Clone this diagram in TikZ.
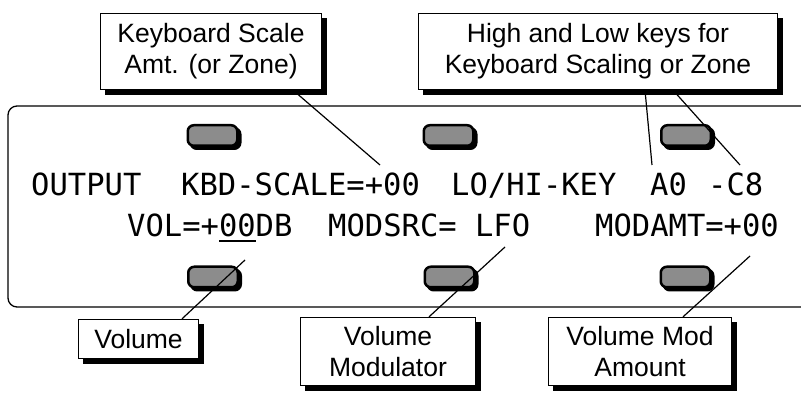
\documentclass[tikz,border=0pt]{standalone}
\usepackage{fontspec}
\setmainfont{Liberation Sans}
\newfontfamily\lcdfont{DejaVu Sans Mono}
\usetikzlibrary{positioning}
\newcommand\lcdul[1]{\vtop{\hbox{#1}\kern3pt\hrule height 2pt}}

\begin{document}
\begin{tikzpicture}[
x=1pt, y=-1pt,
panel/.style={draw, line width=1.3pt, rounded corners=9pt},
callout/.style={draw, line width=1.3pt, fill=white, align=center, inner sep=0pt, font=\fontsize{26.5}{31}\selectfont},
boxshade/.style={draw=black, fill=black, line width=1.3pt, inner sep=0pt},
button/.style={draw, line width=2.5pt, fill=black!45, rounded corners=6pt, minimum width=49.5pt, minimum height=20.5pt, inner sep=0pt},
btnshade/.style={button, fill=black},
lcd/.style={anchor=base west, inner sep=0pt, font=\lcdfont\fontsize{30.5}{32}\selectfont},
lead/.style={line width=1.2pt}
]
\useasboundingbox (0,0) rectangle (801,395);
\draw[panel] (806,106) -- (8,106) -- (8,307) -- (806,307);

\node[btnshade] (scalebtnshade) at (215.5,138.5) {};
\node[btnshade] (keybtnshade) at (451.5,138.5) {};
\node[btnshade] (zonebtnshade) at (689,138.5) {};
\node[btnshade] (volbtnshade) at (216,280) {};
\node[btnshade] (srcbtnshade) at (452.5,280) {};
\node[btnshade] (amtbtnshade) at (688.5,280) {};
\node[button] (scalebtn) at (212.5,135.5) {};
\node[button] (keybtn) at (448.5,135.5) {};
\node[button] (zonebtn) at (686,135.5) {};
\node[button] (volbtn) at (213,277) {};
\node[button] (srcbtn) at (449.5,277) {};
\node[button] (amtbtn) at (685.5,277) {};

\node[lcd] (output) at (31,196) {OUTPUT};
\node[lcd] (kbdscale) at (181,196) {KBD-SCALE=+00};
\node[lcd] (lohikey) at (451,196) {LO/HI-KEY};
\node[lcd] (lokey) at (650,196) {A0};
\node[lcd] (hikey) at (708,196) {-C8};
\node[lcd] (vol) at (127,237) {VOL=+\lcdul{00}DB};
\node[lcd] (modsrc) at (328,237) {MODSRC= LFO};
\node[lcd] (modamt) at (595,237) {MODAMT=+00};

\node[boxshade, minimum width=221pt, minimum height=76pt] (scaleshade) at (216,56.5) {};
\node[boxshade, minimum width=359pt, minimum height=76pt] (keysshade) at (603,56.5) {};
\node[boxshade, minimum width=120pt, minimum height=39pt] (volshade) at (143.5,344) {};
\node[boxshade, minimum width=175pt, minimum height=68pt] (srcshade) at (393,356.5) {};
\node[boxshade, minimum width=183pt, minimum height=68pt] (amtshade) at (645,356.5) {};
\node[callout, minimum width=221pt, minimum height=76pt] (scalebox) at (211,51.5) {Keyboard Scale\\Amt. (or Zone)};
\node[callout, minimum width=359pt, minimum height=76pt] (keysbox) at (598,51.5) {High and Low keys for\\Keyboard Scaling or Zone};
\node[callout, minimum width=120pt, minimum height=39pt] (volbox) at (138.5,339) {Volume};
\node[callout, minimum width=175pt, minimum height=68pt] (srcbox) at (388,351.5) {Volume\\Modulator};
\node[callout, minimum width=183pt, minimum height=68pt] (amtbox) at (640,351.5) {Volume Mod\\Amount};

\coordinate (scaletip) at (380,165);
\coordinate (lotip) at (652,165);
\coordinate (hitip) at (740,165);
\coordinate (voltip) at (245,260);
\coordinate (srctip) at (505,247);
\coordinate (amttip) at (750,256);
\draw[lead] ([xshift=82pt]scalebox.south) -- (scaletip);
\draw[lead] ([xshift=47pt]keysbox.south) -- (lotip);
\draw[lead] ([xshift=75pt]keysbox.south) -- (hitip);
\draw[lead] ([xshift=43.5pt]volbox.north) -- (voltip);
\draw[lead] ([xshift=41pt]srcbox.north) -- (srctip);
\draw[lead] ([xshift=43pt]amtbox.north) -- (amttip);
\end{tikzpicture}
\end{document}
